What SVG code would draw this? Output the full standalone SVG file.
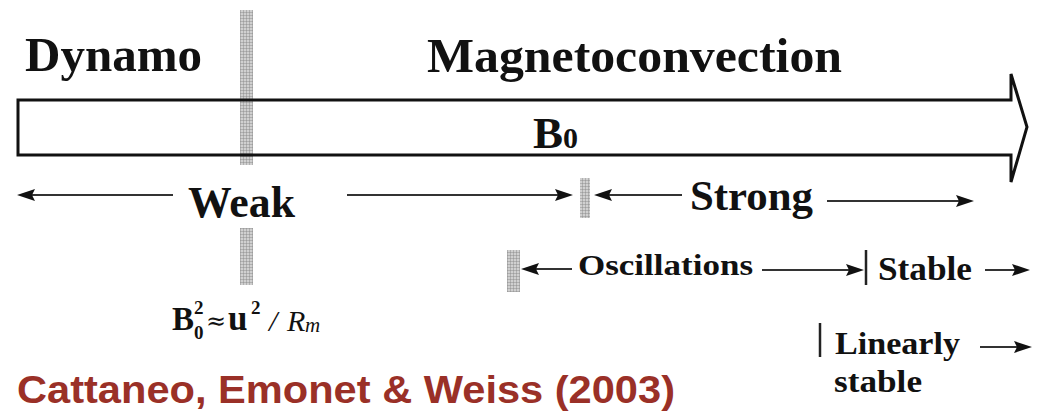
<svg xmlns="http://www.w3.org/2000/svg" xmlns:xlink="http://www.w3.org/1999/xlink" width="1057" height="414" viewBox="0 0 1057 414">
  <style>
    .serif { font-family: "Liberation Serif", "Times New Roman", serif; font-weight: bold; fill: #111; }
    .conn { stroke: #333; stroke-width: 2; fill: none; }
    .bar { stroke: #222; stroke-width: 2.5; }
    .hatch { fill: url(#grid); }
    .head { fill: #111; }
    .cite { font-family: "Liberation Sans", Arial, sans-serif; font-weight: bold; fill: #9a3027; }
    .ital { font-family: "Liberation Serif", "Times New Roman", serif; font-style: italic; fill: #111; }
  </style>
  <defs>
    <pattern id="grid" width="3" height="3" patternUnits="userSpaceOnUse">
      <rect width="3" height="3" fill="#d0d0d0"/>
      <path d="M0,0 H3 M0,0 V3" stroke="#808080" stroke-width="0.8"/>
    </pattern>
    <path id="hr" class="head" d="M0,0 L-18,-6 L-15,0 L-18,6 Z"/>
    <path id="hl" class="head" d="M0,0 L18,-6 L15,0 L18,6 Z"/>
  </defs>

  <rect width="1057" height="414" fill="#ffffff"/>

  <!-- hatched markers -->
  <g id="hatches">
    <rect class="hatch" x="240" y="10" width="13" height="155"/>
    <rect class="hatch" x="240" y="228" width="13" height="57"/>
    <rect class="hatch" x="580" y="178" width="10" height="40"/>
    <rect class="hatch" x="507" y="250" width="13" height="42"/>
  </g>

  <!-- main B0 arrow -->
  <g id="b0-arrow">
    <path d="M18,100 L1011,100 L1011,74 L1027,127 L1011,182 L1011,155 L18,155 Z" fill="none" stroke="#111" stroke-width="3" stroke-linejoin="miter"/>
    <text class="serif" x="533" y="148" font-size="45">B<tspan font-size="30">0</tspan></text>
  </g>

  <g id="dynamo"><text class="serif" x="25" y="71" font-size="48" textLength="177" lengthAdjust="spacingAndGlyphs">Dynamo</text></g>
  <g id="magnetoconvection"><text class="serif" x="427" y="72" font-size="48" textLength="415" lengthAdjust="spacingAndGlyphs">Magnetoconvection</text></g>

  <g id="weak"><text class="serif" x="188" y="217" font-size="44" textLength="107" lengthAdjust="spacingAndGlyphs">Weak</text></g>
  <g id="strong"><text class="serif" x="690" y="210" font-size="42" textLength="123" lengthAdjust="spacingAndGlyphs">Strong</text></g>
  <g id="oscillations"><text class="serif" x="578" y="275" font-size="30" textLength="175" lengthAdjust="spacingAndGlyphs">Oscillations</text></g>
  <g id="stable"><text class="serif" x="878" y="280" font-size="33" textLength="94" lengthAdjust="spacingAndGlyphs">Stable</text></g>
  <g id="linearly-stable">
    <text class="serif" x="835" y="354" font-size="32" textLength="125" lengthAdjust="spacingAndGlyphs">Linearly</text>
    <text class="serif" x="834" y="392" font-size="32" textLength="88" lengthAdjust="spacingAndGlyphs">stable</text>
  </g>

  <g id="formula">
    <text class="serif" x="172" y="330" font-size="33">B</text>
    <text class="serif" x="194" y="314" font-size="19" font-weight="normal">2</text>
    <text class="serif" x="194" y="339" font-size="19" font-weight="normal">0</text>
    <text x="206" y="329" font-size="24" font-family="DejaVu Serif, serif" fill="#111">≈</text>
    <text class="serif" x="228" y="330" font-size="35">u</text>
    <text class="serif" x="251" y="314" font-size="19" font-weight="normal">2</text>
    <text class="ital" x="269" y="331" font-size="30">/</text>
    <text class="ital" x="287" y="331" font-size="30">R</text>
    <text class="ital" x="305" y="332" font-size="21">m</text>
  </g>

  <g id="citation"><text class="cite" x="17" y="403" font-size="39" textLength="658" lengthAdjust="spacingAndGlyphs">Cattaneo, Emonet &amp; Weiss (2003)</text></g>

  <g id="connectors">
    <line class="conn" x1="173" y1="195" x2="25" y2="195"/>
    <use xlink:href="#hl" href="#hl" x="17" y="195"/>
    <line class="conn" x1="347" y1="195" x2="562" y2="195"/>
    <use xlink:href="#hr" href="#hr" x="573" y="195"/>
    <line class="conn" x1="682" y1="195" x2="604" y2="195"/>
    <use xlink:href="#hl" href="#hl" x="594" y="195"/>
    <line class="conn" x1="827" y1="201" x2="962" y2="201"/>
    <use xlink:href="#hr" href="#hr" x="974" y="201"/>
    <line class="conn" x1="572" y1="269" x2="532" y2="269" stroke-width="2.5"/>
    <use xlink:href="#hl" href="#hl" x="521" y="269"/>
    <line class="conn" x1="762" y1="270" x2="852" y2="270"/>
    <use xlink:href="#hr" href="#hr" x="864" y="270"/>
    <line class="conn" x1="985" y1="270" x2="1018" y2="270"/>
    <use xlink:href="#hr" href="#hr" x="1030" y="270"/>
    <line class="conn" x1="980" y1="347" x2="1020" y2="347"/>
    <use xlink:href="#hr" href="#hr" x="1032" y="347"/>
    <line class="bar" x1="866" y1="250" x2="866" y2="285"/>
    <line class="bar" x1="820" y1="323" x2="820" y2="357"/>
  </g>
</svg>
